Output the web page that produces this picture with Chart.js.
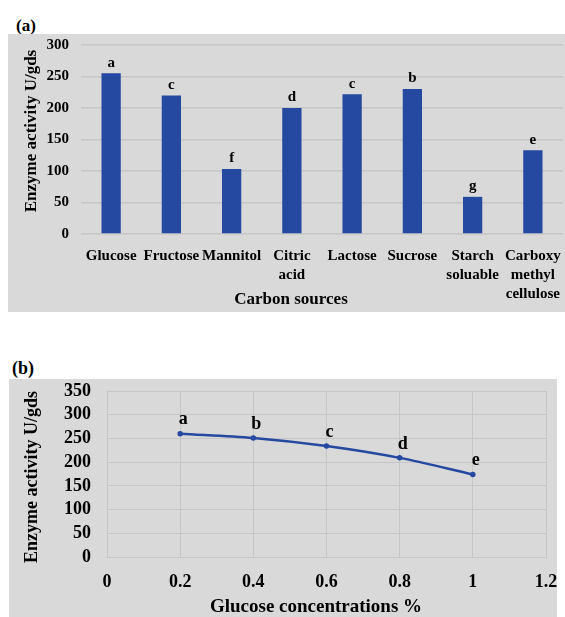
<!DOCTYPE html>
<html>
<head>
<meta charset="utf-8">
<script src="https://cdn.jsdelivr.net/npm/chart.js@4.4.1/dist/chart.umd.min.js"></script>
<style>
  body { margin: 0; background: #fff; width: 565px; height: 617px; position: relative; overflow: hidden;
         font-family: "Liberation Serif", "Times New Roman", serif; }
  .tag { position: absolute; font-weight: bold; color: #000; line-height: 1; }
  #tagA { left: 16px; top: 17px; font-size: 17px; }
  #tagB { left: 12px; top: 359px; font-size: 18px; }
  .box { position: absolute; background: #d9d9d9; }
  #boxA { left: 8px; top: 34px; width: 557px; height: 278px; }
  #boxB { left: 9px; top: 379px; width: 548px; height: 238px; }
  canvas { display: block; }
</style>
</head>
<body>
<div class="tag" id="tagA">(a)</div>
<div class="box" id="boxA"><canvas id="chartA" width="557" height="278"></canvas></div>
<div class="tag" id="tagB">(b)</div>
<div class="box" id="boxB"><canvas id="chartB" width="548" height="238"></canvas></div>
<script>
// (a) carbon sources
const carbonSources = ["Glucose", "Fructose", "Mannitol", ["Citric", "acid"], "Lactose", "Sucrose",
  ["Starch", "soluable"], ["Carboxy", "methyl", "cellulose"]];
const carbonActivity = [255, 220, 103, 200, 222, 230, 59, 133];
const carbonLetters = ["a", "c", "f", "d", "c", "b", "g", "e"];

// (b) glucose concentrations
const glucoseConc = [0.2, 0.4, 0.6, 0.8, 1.0];
const glucoseActivity = [260, 251, 234, 209, 174];
const glucoseLetters = ["a", "b", "c", "d", "e"];

const yTitle = "Enzyme activity U/gds";
const xTitleA = "Carbon sources";
const xTitleB = "Glucose concentrations %";

const serif = '"Liberation Serif", "Times New Roman", serif';
const gridColor = "#c6c6c6";
const blue = "#2548a0";

// letters above the marks
const letterPlugin = {
  id: "letters",
  afterDatasetsDraw(chart, args, opts) {
    const ctx = chart.ctx;
    const meta = chart.getDatasetMeta(0);
    ctx.save();
    ctx.font = "bold " + opts.size + "px " + serif;
    ctx.fillStyle = "#000";
    ctx.textAlign = "center";
    ctx.textBaseline = "bottom";
    meta.data.forEach((el, i) => {
      ctx.fillText(opts.letters[i], el.x + (opts.dx || 0), el.y - opts.gap);
    });
    ctx.restore();
  }
};

// axis titles placed like the original
const titlePlugin = {
  id: "titles",
  afterDraw(chart, args, opts) {
    const ctx = chart.ctx;
    ctx.save();
    ctx.fillStyle = "#000";
    ctx.textAlign = "center";
    ctx.textBaseline = "middle";
    opts.items.forEach(t => {
      ctx.font = "bold " + t.size + "px " + serif;
      ctx.save();
      ctx.translate(t.x, t.y);
      if (t.rotate) ctx.rotate(-Math.PI / 2);
      ctx.fillText(t.text, 0, 0);
      ctx.restore();
    });
    ctx.restore();
  }
};

// fixed axis boxes, no extra padding from label overhang
function fixX(h) {
  return scale => { scale.height = h; scale.paddingLeft = 0; scale.paddingRight = 0; };
}
function fixY(w) {
  return scale => { scale.width = w; scale.paddingTop = 0; scale.paddingBottom = 0; };
}

new Chart(document.getElementById("chartA"), {
  type: "bar",
  data: {
    labels: carbonSources,
    datasets: [{
      data: carbonActivity,
      backgroundColor: blue,
      barPercentage: 0.32,
      categoryPercentage: 1
    }]
  },
  options: {
    responsive: false,
    animation: false,
    layout: { padding: { top: 11, right: 2, left: 0, bottom: 0 } },
    scales: {
      x: {
        grid: { display: false },
        border: { display: false },
        ticks: { color: "#000", padding: 5, maxRotation: 0, autoSkip: false,
                 font: { family: serif, size: 15, weight: "bold", lineHeight: 1.25 } },
        afterFit: fixX(78)
      },
      y: {
        min: 0, max: 300,
        grid: { color: gridColor, lineWidth: 1.5, drawTicks: false },
        border: { display: false },
        ticks: { stepSize: 50, color: "#000", padding: 12, autoSkip: false,
                 font: { family: serif, size: 15, weight: "bold", lineHeight: 1 } },
        afterFit: fixY(73)
      }
    },
    plugins: {
      legend: { display: false },
      tooltip: { enabled: false },
      letters: { letters: carbonLetters, size: 15, gap: 3 },
      titles: { items: [
        { text: yTitle, x: 24, y: 97, size: 17, rotate: true },
        { text: xTitleA, x: 283, y: 266, size: 17 }
      ] }
    }
  },
  plugins: [letterPlugin, titlePlugin]
});

new Chart(document.getElementById("chartB"), {
  type: "scatter",
  data: {
    datasets: [{
      data: glucoseConc.map((x, i) => ({ x: x, y: glucoseActivity[i] })),
      showLine: true,
      borderColor: blue,
      backgroundColor: blue,
      borderWidth: 2.5,
      pointRadius: 1.5,
      cubicInterpolationMode: "monotone"
    }]
  },
  options: {
    responsive: false,
    animation: false,
    layout: { padding: { top: 12, right: 11, left: 0, bottom: 0 } },
    scales: {
      x: {
        min: 0, max: 1.2,
        grid: { color: gridColor, drawTicks: false },
        border: { color: gridColor },
        ticks: { stepSize: 0.2, color: "#000", padding: 15, autoSkip: false,
                 font: { family: serif, size: 18, weight: "bold" },
                 callback: v => String(Number(v.toFixed(1))) },
        afterFit: fixX(60)
      },
      y: {
        min: 0, max: 350,
        grid: { color: gridColor, drawTicks: false },
        border: { color: gridColor },
        ticks: { stepSize: 50, color: "#000", padding: 16, autoSkip: false,
                 font: { family: serif, size: 18, weight: "bold", lineHeight: 1 } },
        afterFit: fixY(98)
      }
    },
    plugins: {
      legend: { display: false },
      tooltip: { enabled: false },
      letters: { letters: glucoseLetters, size: 18, gap: 5, dx: 3 },
      titles: { items: [
        { text: yTitle, x: 23, y: 98, size: 18, rotate: true },
        { text: xTitleB, x: 307, y: 228, size: 19 }
      ] }
    }
  },
  plugins: [letterPlugin, titlePlugin]
});
</script>
</body>
</html>
